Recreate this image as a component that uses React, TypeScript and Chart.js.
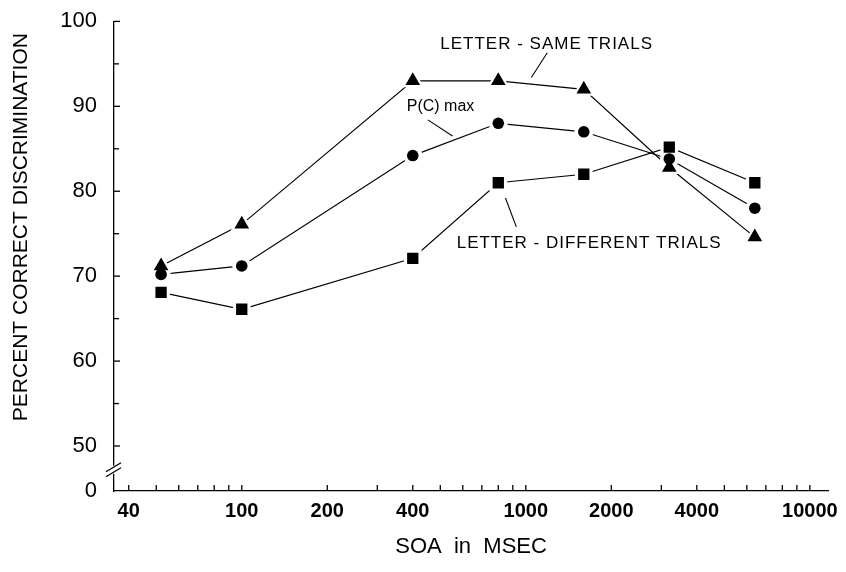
import React, { useEffect, useRef } from 'react';
import { Chart, registerables } from 'chart.js';

Chart.register(...registerables);

// ---- data ----
const soaMsec = [52, 100, 400, 800, 1600, 3200, 6400];
const letterSameTrials = [71.2, 76.1, 93.0, 93.0, 92.0, 82.8, 74.6];
const pcMax = [70.2, 71.2, 84.2, 88.0, 87.0, 83.8, 78.0];
const letterDifferentTrials = [68.1, 66.1, 72.1, 81.0, 82.0, 85.2, 81.0];

const xTickLabels = [40, 100, 200, 400, 1000, 2000, 4000, 10000];
const xTickMarks = [40, 50, 60, 70, 80, 90, 100, 200, 300, 400, 500, 600, 700, 800, 900, 1000, 2000, 3000, 4000, 5000, 6000, 7000, 8000, 9000, 10000];
const yTickValues = [50, 60, 70, 80, 90, 100];
const yMinorTicks = [55, 65, 75, 85, 95];
const yZeroValue = 44.7; // position on the broken axis that carries the label "0"
const yBreakValue = 47.2;

const annotationTexts = ['LETTER - SAME TRIALS', 'P(C) max', 'LETTER - DIFFERENT TRIALS'];
const annotationAnchors = [[500, 97.3], [381, 90.0], [571, 73.9]];
const pointerFrom = [[1190, 96.3], [452, 88.4], [926, 75.8]];
const pointerTo = [[1046, 93.4], [552, 86.5], [848, 79.2]];
const annotationSpacing = ['1px', '0px', '1px'];
const annotationSize = [17, 16, 17];

const FONT = '"Liberation Sans", Arial, Helvetica, sans-serif';

const decorPlugin = {
  id: 'decor',
  afterDraw(chart: any) {
    const ctx = chart.ctx as CanvasRenderingContext2D;
    const xs = chart.scales.x;
    const ys = chart.scales.y;
    const area = chart.chartArea;
    const line = (x1: number, y1: number, x2: number, y2: number) => {
      ctx.beginPath();
      ctx.moveTo(x1, y1);
      ctx.lineTo(x2, y2);
      ctx.stroke();
    };
    ctx.save();
    ctx.strokeStyle = '#000';
    ctx.lineWidth = 1.3;
    // inward x ticks
    for (const v of xTickMarks) {
      const px = xs.getPixelForValue(v);
      line(px, area.bottom, px, area.bottom - 6);
    }
    // inward y ticks
    for (const v of yTickValues) {
      const py = ys.getPixelForValue(v);
      line(area.left, py, area.left + 6, py);
    }
    for (const v of yMinorTicks) {
      const py = ys.getPixelForValue(v);
      line(area.left, py, area.left + 5, py);
    }
    // axis break
    const by = ys.getPixelForValue(yBreakValue);
    ctx.fillStyle = '#fff';
    ctx.fillRect(area.left - 2, by - 4, 4, 8);
    line(area.left - 8, by + 2, area.left + 7, by - 7);
    line(area.left - 8, by + 7, area.left + 7, by - 2);

    // annotations
    ctx.fillStyle = '#000';
    ctx.textAlign = 'left';
    ctx.textBaseline = 'middle';
    annotationTexts.forEach((t, i) => {
      ctx.font = `${annotationSize[i]}px ${FONT}`;
      (ctx as any).letterSpacing = annotationSpacing[i];
      const [ax, ay] = annotationAnchors[i];
      ctx.fillText(t, xs.getPixelForValue(ax), ys.getPixelForValue(ay));
      const [fx, fy] = pointerFrom[i];
      const [tx, ty] = pointerTo[i];
      ctx.lineWidth = 1.1;
      line(xs.getPixelForValue(fx), ys.getPixelForValue(fy), xs.getPixelForValue(tx), ys.getPixelForValue(ty));
    });
    (ctx as any).letterSpacing = '0px';
    ctx.restore();
  },
};

type Style = 'triangle' | 'circle' | 'rect';
const series: { data: number[]; style: Style; r: number; halo: number }[] = [
  { data: letterSameTrials, style: 'triangle', r: 8.5, halo: 13 },
  { data: pcMax, style: 'circle', r: 5.8, halo: 9.5 },
  { data: letterDifferentTrials, style: 'rect', r: 8, halo: 12.5 },
];

export default function App() {
  const ref = useRef<HTMLCanvasElement>(null);
  useEffect(() => {
    document.body.style.margin = '0';
    const toPts = (d: number[]) => soaMsec.map((x, i) => ({ x, y: d[i] }));
    const datasets: any[] = [];
    series.forEach((s) => {
      datasets.push({
        data: toPts(s.data),
        borderColor: '#000',
        borderWidth: 1.2,
        pointRadius: 0,
        showLine: true,
        order: 3,
      });
    });
    series.forEach((s) => {
      datasets.push({
        data: toPts(s.data),
        showLine: false,
        pointStyle: s.style,
        pointRadius: s.halo,
        pointBackgroundColor: '#fff',
        pointBorderWidth: 0,
        pointBorderColor: '#fff',
        order: 2,
      });
    });
    series.forEach((s) => {
      datasets.push({
        data: toPts(s.data),
        showLine: false,
        pointStyle: s.style,
        pointRadius: s.r,
        pointBackgroundColor: '#000',
        pointBorderWidth: 0,
        pointBorderColor: '#000',
        order: 1,
      });
    });

    const chart = new Chart(ref.current as HTMLCanvasElement, {
      type: 'scatter',
      data: { datasets },
      plugins: [decorPlugin],
      options: {
        animation: false,
        responsive: false,
        events: [],
        layout: { padding: { left: 0, top: 19, right: 10, bottom: 0 } },
        plugins: { legend: { display: false }, tooltip: { enabled: false } },
        scales: {
          x: {
            type: 'logarithmic',
            min: 35.5,
            max: 11600,
            afterBuildTicks: (scale: any) => {
              scale.ticks = xTickLabels.map((v) => ({ value: v }));
            },
            afterFit: (scale: any) => {
              scale.height = 81;
            },
            grid: { drawOnChartArea: false, drawTicks: false },
            border: { display: true, color: '#000', width: 1.3 },
            ticks: {
              autoSkip: false,
              maxRotation: 0,
              padding: 8,
              color: '#000',
              font: { family: FONT, size: 20, weight: 'bold' },
              callback: (v: any) => String(v),
            },
            title: {
              display: true,
              text: 'SOA  in  MSEC',
              color: '#000',
              font: { family: FONT, size: 22 },
              padding: { top: 0, bottom: 12 },
            },
          },
          y: {
            type: 'linear',
            min: yZeroValue,
            max: 100,
            afterBuildTicks: (scale: any) => {
              scale.ticks = [yZeroValue, ...yTickValues].map((v) => ({ value: v }));
            },
            afterFit: (scale: any) => {
              scale.width = 114;
            },
            grid: { drawOnChartArea: false, drawTicks: false },
            border: { display: true, color: '#000', width: 1.3 },
            ticks: {
              padding: 17,
              color: '#000',
              font: { family: FONT, size: 22, lineHeight: 0.4 },
              callback: (v: any) => (v === yZeroValue ? '0' : String(v)),
            },
            title: {
              display: true,
              text: 'PERCENT CORRECT DISCRIMINATION  ',
              align: 'end',
              color: '#000',
              font: { family: FONT, size: 21 },
              padding: { top: 9, bottom: 0 },
            },
          },
        },
      },
    } as any);
    return () => chart.destroy();
  }, []);
  return <canvas ref={ref} width={846} height={572} style={{ display: 'block' }} />;
}
